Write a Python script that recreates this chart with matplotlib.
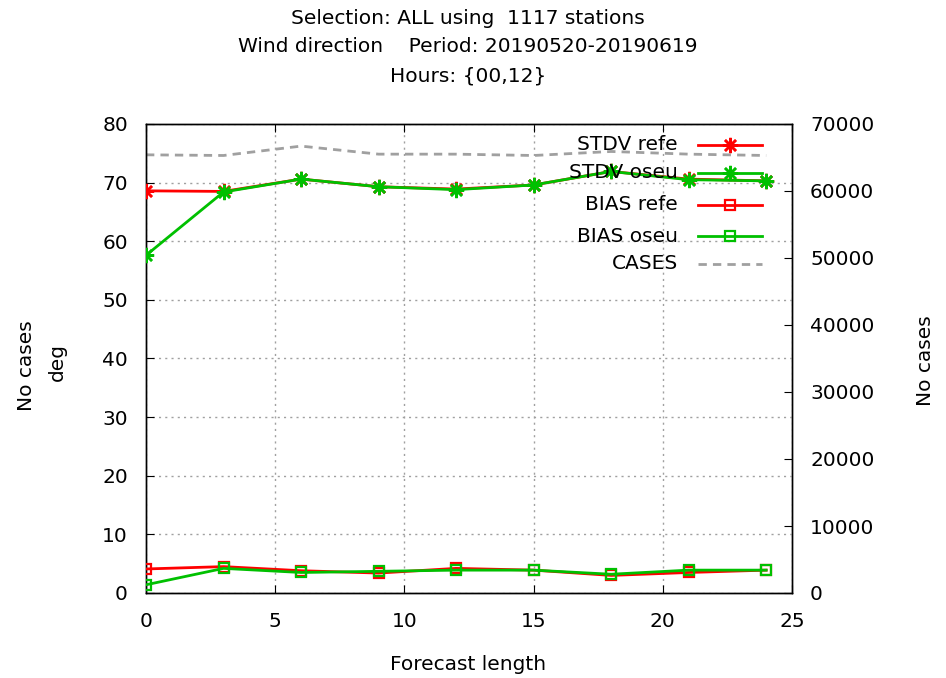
import matplotlib
matplotlib.use("Agg")
import matplotlib.pyplot as plt
from matplotlib.lines import Line2D

plt.rcParams['font.family'] = ['DejaVu Sans']

lead = [0, 3, 6, 9, 12, 15, 18, 21, 24]
stdv_refe = [68.6, 68.5, 70.6, 69.3, 68.9, 69.6, 71.9, 70.6, 70.3]
stdv_oseu = [57.6, 68.4, 70.6, 69.3, 68.8, 69.6, 71.9, 70.5, 70.3]
bias_refe = [4.1, 4.5, 3.8, 3.4, 4.2, 3.9, 3.0, 3.5, 3.9]
bias_oseu = [1.4, 4.2, 3.5, 3.7, 3.9, 3.9, 3.2, 3.9, 3.9]
cases = [65400, 65300, 66700, 65500, 65500, 65300, 65900, 65500, 65300]

title_lines = ["Selection: ALL using  1117 stations",
               "Wind direction    Period: 20190520-20190619",
               "Hours: {00,12}"]
labels = ["STDV refe", "STDV oseu", "BIAS refe", "BIAS oseu", "CASES"]

red = "#ff0000"
green = "#00c000"
gray = "#a0a0a0"
star = (8, 2, 0)
FS = 14.5
LW = 2.0

fig = plt.figure(figsize=(9.46, 6.78), dpi=100)
ax = fig.add_axes([146/946, 1-593/678, (792-146)/946, (593-124)/678])
ax2 = ax.twinx()

ax2.plot(lead, cases, color=gray, lw=LW, dashes=(3, 2.2), zorder=1)
ax.plot(lead, stdv_refe, color=red, lw=LW, marker=star, ms=11, mew=1.8, zorder=3)
ax.plot(lead, stdv_oseu, color=green, lw=LW, marker=star, ms=11, mew=1.8, zorder=4)
ax.plot(lead, bias_refe, color=red, lw=LW, marker='s', ms=7.5, mfc='none', mew=1.6, zorder=3)
ax.plot(lead, bias_oseu, color=green, lw=LW, marker='s', ms=7.5, mfc='none', mew=1.6, zorder=4)

ax.set_zorder(ax2.get_zorder() + 1)
ax.patch.set_visible(False)

ax.set_xlim(0, 25)
ax.set_ylim(0, 80)
ax2.set_ylim(0, 70000)
ax.set_xticks(range(0, 26, 5))
ax.set_yticks(range(0, 81, 10))
ax2.set_yticks(range(0, 70001, 10000))
ax.grid(True, color='#a0a0a0', linestyle=(0, (1.5, 3)), lw=1.0)
ax.tick_params(axis='y', direction='in', labelsize=FS, length=6, pad=13)
ax.tick_params(axis='x', direction='in', labelsize=FS, length=6, top=True, pad=14)
ax2.tick_params(direction='in', labelsize=FS, length=6, pad=13)
for a in (ax, ax2):
    for s in a.spines.values():
        s.set_linewidth(1.0)

for ln_txt, yy in zip(title_lines, [18, 47, 76]):
    fig.text(468/946, 1-yy/678, ln_txt, ha='center', va='center', fontsize=FS)
fig.text(27/946, 1-366/678, "No cases", ha='center', va='center', fontsize=FS, rotation=90)
fig.text(57/946, 1-362/678, "deg", ha='center', va='center', fontsize=FS, rotation=90)
fig.text(925/946, 1-361/678, "No cases", ha='center', va='center', fontsize=FS, rotation=90)
fig.text(468/946, 1-664/678, "Forecast length", ha='center', va='center', fontsize=FS)

# legend (drawn manually to mimic gnuplot's right-aligned keys)
rows_y = [145, 173, 205, 236, 264]
styles = [
    dict(color=red, marker=star, ms=11, mew=1.8, mfc=red),
    dict(color=green, marker=star, ms=11, mew=1.8, mfc=green),
    dict(color=red, marker='s', ms=7.5, mew=1.6, mfc='none'),
    dict(color=green, marker='s', ms=7.5, mew=1.6, mfc='none'),
    dict(color=gray, dashes=(3, 2.2)),
]
for lab, yy, st in zip(labels, rows_y, styles):
    fy = 1 - yy/678
    fig.text(678/946, fy, lab, ha='right', va='center', fontsize=FS)
    kw = dict(color=st['color'], lw=LW)
    if 'dashes' in st:
        kw['dashes'] = st['dashes']
    fig.add_artist(Line2D([698/946, 762/946], [fy, fy], transform=fig.transFigure, **kw))
    if 'marker' in st:
        fig.add_artist(Line2D([730/946], [fy], transform=fig.transFigure, linestyle='none',
                              marker=st['marker'], ms=st['ms'], mew=st['mew'],
                              color=st['color'], mfc=st['mfc']))

fig.savefig("out.png", dpi=100)
